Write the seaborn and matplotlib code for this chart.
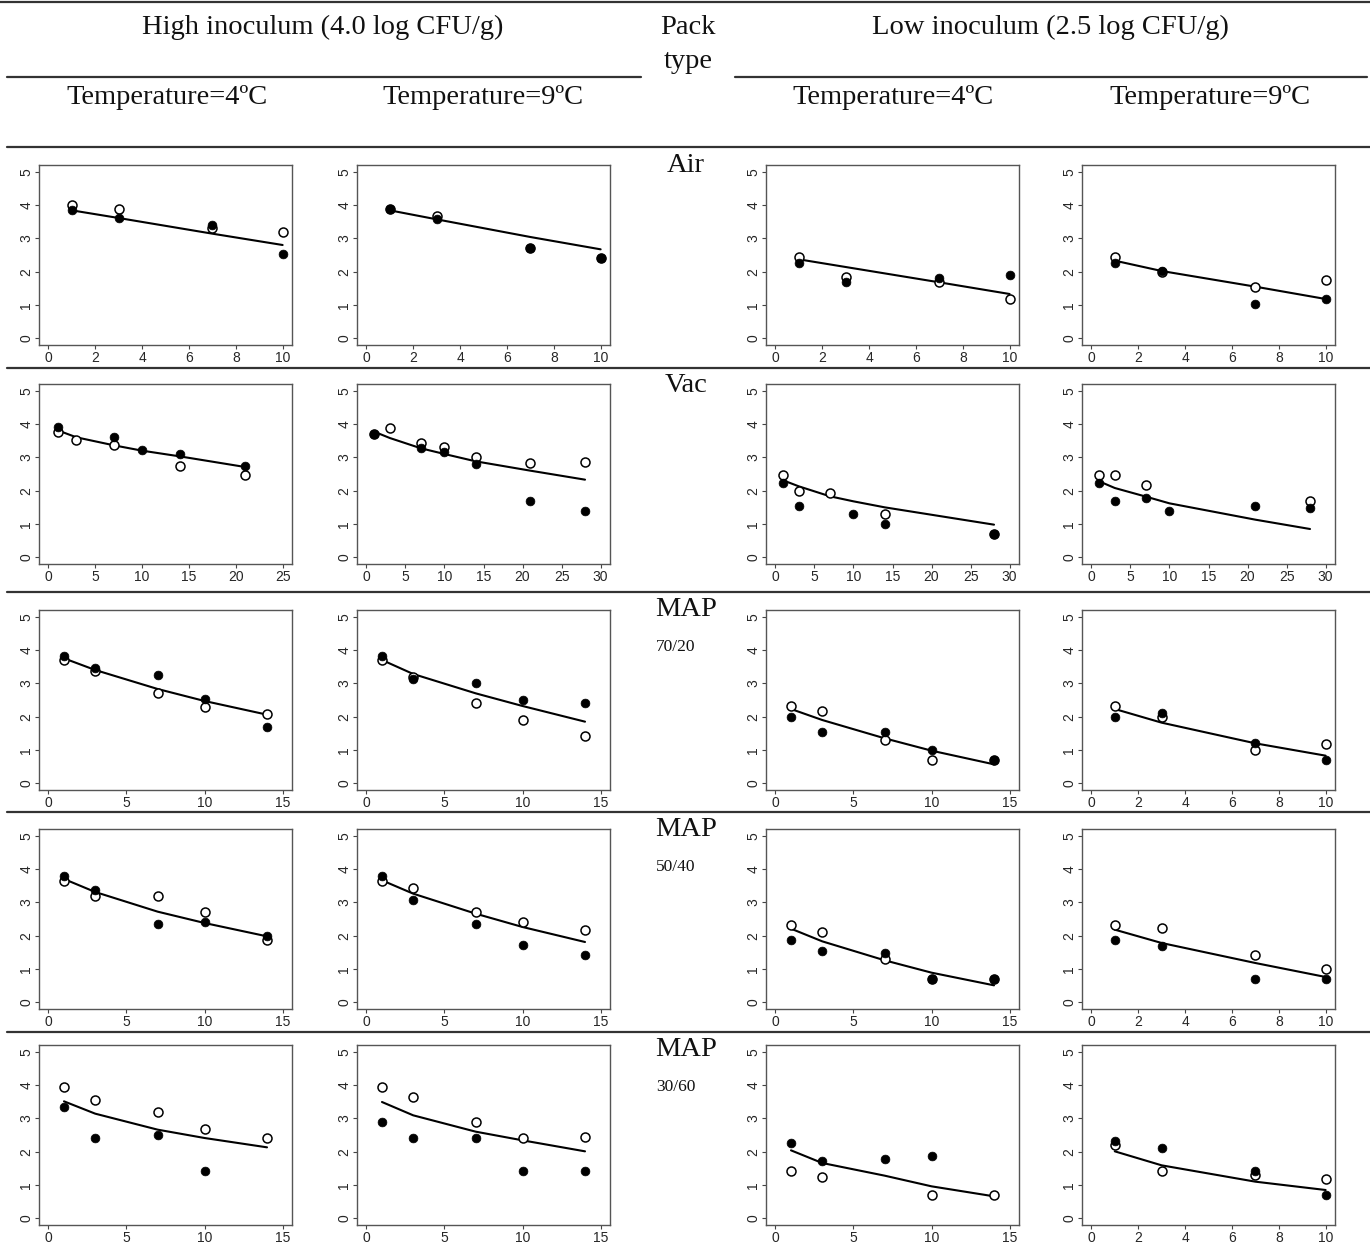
import numpy as np
import matplotlib.pyplot as plt
import seaborn as sns

nan = np.nan

# storage days
days_short = [1, 3, 7, 10]
days_map = [1, 3, 7, 10, 14]
vac_h4_days = [1, 3, 7, 10, 14, 21]
vac_h9_days = [1, 3, 7, 10, 14, 21, 28]
vac_l4_days = [1, 3, 7, 10, 14, 28]
vac_l9_days = [1, 3, 7, 10, 21, 28]

# Air
air_h4_open = [4.00, 3.87, 3.30, 3.18]
air_h4_filled = [3.84, 3.60, 3.40, 2.54]
air_h4_fit = [3.84, 3.61, 3.14, 2.80]
air_h9_open = [3.88, 3.66, 2.70, 2.40]
air_h9_filled = [3.88, 3.58, 2.70, 2.40]
air_h9_fit = [3.84, 3.57, 3.04, 2.67]
air_l4_open = [2.45, 1.84, 1.70, 1.18]
air_l4_filled = [2.25, 1.70, 1.80, 1.89]
air_l4_fit = [2.37, 2.14, 1.68, 1.33]
air_l9_open = [2.45, 1.98, 1.55, 1.75]
air_l9_filled = [2.25, 2.02, 1.02, 1.19]
air_l9_fit = [2.33, 2.02, 1.55, 1.18]

# Vac
vac_h4_open = [3.75, 3.53, 3.38, nan, 2.75, 2.46]
vac_h4_filled = [3.92, nan, 3.60, 3.21, 3.09, 2.75]
vac_h4_fit = [3.81, 3.60, 3.36, 3.20, 3.03, 2.71]
vac_h9_open = [3.70, 3.89, 3.44, 3.30, 3.01, 2.83, 2.86]
vac_h9_filled = [3.70, nan, 3.29, 3.15, 2.81, 1.70, 1.40]
vac_h9_fit = [3.77, 3.58, 3.27, 3.10, 2.88, 2.60, 2.33]
vac_l4_open = [2.48, 2.00, 1.94, nan, 1.31, 0.70]
vac_l4_filled = [2.24, 1.53, nan, 1.31, 1.00, 0.70]
vac_l4_fit = [2.31, 2.13, 1.83, 1.68, 1.50, 0.98]
vac_l9_open = [2.48, 2.48, 2.18, nan, nan, 1.70]
vac_l9_filled = [2.24, 1.70, 1.77, 1.40, 1.54, 1.47]
vac_l9_fit = [2.28, 2.08, 1.82, 1.62, 1.13, 0.85]

# MAP 70/20
m70_h4_open = [3.70, 3.38, 2.72, 2.30, 2.09]
m70_h4_filled = [3.82, 3.46, 3.24, 2.54, 1.69]
m70_h4_fit = [3.75, 3.40, 2.83, 2.47, 2.06]
m70_h9_open = [3.70, 3.20, 2.40, 1.89, 1.41]
m70_h9_filled = [3.82, 3.12, 3.01, 2.51, 2.40]
m70_h9_fit = [3.70, 3.28, 2.70, 2.32, 1.85]
m70_l4_open = [2.31, 2.18, 1.30, 0.70, 0.70]
m70_l4_filled = [2.00, 1.53, 1.55, 1.01, 0.71]
m70_l4_fit = [2.23, 1.90, 1.35, 0.98, 0.57]
m70_l9_open = [2.31, 1.99, 1.01, 1.19]
m70_l9_filled = [2.00, 2.10, 1.20, 0.71]
m70_l9_fit = [2.23, 1.82, 1.20, 0.83]

# MAP 50/40
m50_h4_open = [3.64, 3.20, 3.18, 2.71, 1.86]
m50_h4_filled = [3.79, 3.38, 2.36, 2.40, 2.00]
m50_h4_fit = [3.70, 3.31, 2.72, 2.38, 1.98]
m50_h9_open = [3.64, 3.42, 2.70, 2.41, 2.18]
m50_h9_filled = [3.79, 3.08, 2.36, 1.71, 1.42]
m50_h9_fit = [3.66, 3.26, 2.66, 2.26, 1.81]
m50_l4_open = [2.31, 2.12, 1.31, 0.70, 0.70]
m50_l4_filled = [1.88, 1.53, 1.48, 0.71, 0.71]
m50_l4_fit = [2.21, 1.83, 1.26, 0.89, 0.51]
m50_l9_open = [2.31, 2.24, 1.42, 1.01]
m50_l9_filled = [1.88, 1.70, 0.71, 0.71]
m50_l9_fit = [2.18, 1.78, 1.18, 0.76]

# MAP 30/60
m30_h4_open = [3.94, 3.54, 3.19, 2.68, 2.41]
m30_h4_filled = [3.34, 2.41, 2.50, 1.41, nan]
m30_h4_fit = [3.51, 3.14, 2.66, 2.41, 2.13]
m30_h9_open = [3.94, 3.63, 2.88, 2.41, 2.45]
m30_h9_filled = [2.89, 2.41, 2.41, 1.41, 1.41]
m30_h9_fit = [3.49, 3.09, 2.60, 2.34, 2.01]
m30_l4_open = [1.41, 1.24, nan, 0.70, 0.70]
m30_l4_filled = [2.26, 1.71, 1.79, 1.88, nan]
m30_l4_fit = [2.04, 1.66, 1.28, 0.96, 0.66]
m30_l9_open = [2.19, 1.41, 1.31, 1.19]
m30_l9_filled = [2.32, 2.11, 1.41, 0.70]
m30_l9_fit = [2.01, 1.59, 1.10, 0.85]

col_titles = ["Temperature=4ºC", "Temperature=9ºC", "Temperature=4ºC", "Temperature=9ºC"]
pack_labels = ["Air", "Vac", "MAP", "MAP", "MAP"]
gas_labels = ["", "", "70/20", "50/40", "30/60"]

# one row per pack type: (days, open, filled, fit, x axis max)
grid = [
    [(days_short, air_h4_open, air_h4_filled, air_h4_fit, 10),
     (days_short, air_h9_open, air_h9_filled, air_h9_fit, 10),
     (days_short, air_l4_open, air_l4_filled, air_l4_fit, 10),
     (days_short, air_l9_open, air_l9_filled, air_l9_fit, 10)],
    [(vac_h4_days, vac_h4_open, vac_h4_filled, vac_h4_fit, 25),
     (vac_h9_days, vac_h9_open, vac_h9_filled, vac_h9_fit, 30),
     (vac_l4_days, vac_l4_open, vac_l4_filled, vac_l4_fit, 30),
     (vac_l9_days, vac_l9_open, vac_l9_filled, vac_l9_fit, 30)],
    [(days_map, m70_h4_open, m70_h4_filled, m70_h4_fit, 15),
     (days_map, m70_h9_open, m70_h9_filled, m70_h9_fit, 15),
     (days_map, m70_l4_open, m70_l4_filled, m70_l4_fit, 15),
     (days_short, m70_l9_open, m70_l9_filled, m70_l9_fit, 10)],
    [(days_map, m50_h4_open, m50_h4_filled, m50_h4_fit, 15),
     (days_map, m50_h9_open, m50_h9_filled, m50_h9_fit, 15),
     (days_map, m50_l4_open, m50_l4_filled, m50_l4_fit, 15),
     (days_short, m50_l9_open, m50_l9_filled, m50_l9_fit, 10)],
    [(days_map, m30_h4_open, m30_h4_filled, m30_h4_fit, 15),
     (days_map, m30_h9_open, m30_h9_filled, m30_h9_fit, 15),
     (days_map, m30_l4_open, m30_l4_filled, m30_l4_fit, 15),
     (days_short, m30_l9_open, m30_l9_filled, m30_l9_fit, 10)],
]

sns.set_style("white")
plt.rcParams["font.family"] = ["Liberation Serif", "DejaVu Serif"]

W, H = 1370, 1245
fig = plt.figure(figsize=(W / 100, H / 100), dpi=100)

# background axes in pixel units for the table text and rules
bg = fig.add_axes([0, 0, 1, 1])
bg.set_xlim(0, W)
bg.set_ylim(H, 0)
bg.axis("off")

rule = dict(color="#333333", lw=1.6)
bg.plot([0, W], [2, 2], **rule)
bg.plot([7, 641], [77, 77], **rule)
bg.plot([735, 1367], [77, 77], **rule)
for y in [147, 368, 592, 812, 1032]:
    bg.plot([7, W], [y, y], **rule)

hdr = dict(fontsize=20.5, ha="center", va="center", color="#111111")
bg.text(323, 27, "High inoculum (4.0 log CFU/g)", **hdr)
bg.text(1050, 27, "Low inoculum (2.5 log CFU/g)", **hdr)
bg.text(688, 27, "Pack", **hdr)
bg.text(688, 61, "type", **hdr)
for cx, t in zip([167, 483, 893, 1210], col_titles):
    bg.text(cx, 97, t, **hdr)

col_left = [39, 357, 766, 1082]
row_top = [165, 384, 610, 829, 1045]
box_w, box_h = 253, 180
label_y = [165, 385, 610, 830, 1050]

for r, row in enumerate(grid):
    bg.text(686, label_y[r], pack_labels[r], **hdr)
    if gas_labels[r]:
        bg.text(676, label_y[r] + 37, gas_labels[r], fontsize=12.5, ha="center",
                va="center", color="#111111")
    for c, (days, opn, filled, fit, xmax) in enumerate(row):
        rect = [col_left[c] / W, 1 - (row_top[r] + box_h) / H, box_w / W, box_h / H]
        ax = fig.add_axes(rect)
        d = np.array(days, dtype=float)
        o = np.array(opn, dtype=float)
        f = np.array(filled, dtype=float)
        sns.lineplot(x=d, y=np.array(fit), ax=ax, color="black", lw=1.5,
                     sort=False, estimator=None, zorder=2)
        mo = ~np.isnan(o)
        sns.scatterplot(x=d[mo], y=o[mo], ax=ax, marker="o", s=42,
                        facecolor="white", edgecolor="black", linewidth=1.1, zorder=3)
        mf = ~np.isnan(f)
        sns.scatterplot(x=d[mf], y=f[mf], ax=ax, marker="o", s=40,
                        color="black", edgecolor="black", linewidth=0.5, zorder=4)
        pad = xmax * 0.04
        ax.set_xlim(-pad, xmax + pad)
        ax.set_ylim(-0.2, 5.2)
        step = 2 if xmax == 10 else 5
        ax.set_xticks(np.arange(0, xmax + 1, step))
        ax.set_yticks(range(6))
        ax.set_xlabel("")
        ax.set_ylabel("")
        ax.tick_params(axis="both", length=3, width=0.8, color="#444444",
                       labelsize=10, pad=1, bottom=True, left=True)
        for lab in ax.get_xticklabels() + ax.get_yticklabels():
            lab.set_fontfamily("Liberation Sans")
        for lab in ax.get_yticklabels():
            lab.set_rotation(90)
            lab.set_va("center")
        for s in ax.spines.values():
            s.set_color("#555555")
            s.set_linewidth(1.0)

fig.savefig("out.png", dpi=100)
